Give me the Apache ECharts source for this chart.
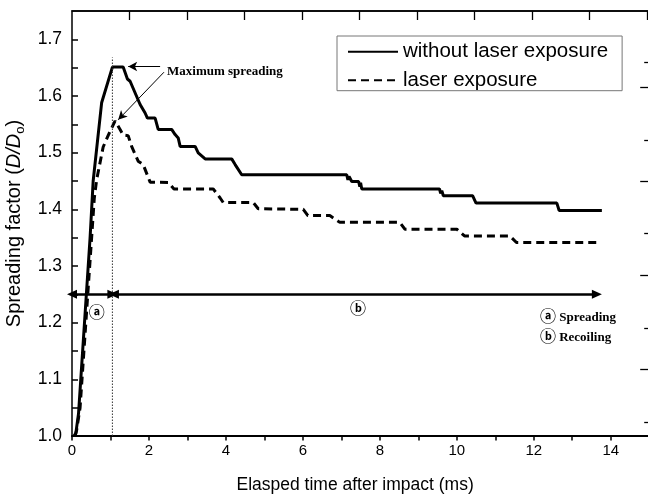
<!DOCTYPE html>
<html>
<head>
<meta charset="utf-8">
<script src="https://cdn.jsdelivr.net/npm/echarts@6/dist/echarts.min.js"></script>
<style>
html, body { margin: 0; padding: 0; background: #fff; overflow: hidden; }
#main { width: 660px; height: 500px; }
</style>
</head>
<body>
<div id="main"></div>
<script>
var xTickLabels = ['0', '2', '4', '6', '8', '10', '12', '14'];
var yTickLabels = ['1.0', '1.1', '1.2', '1.3', '1.4', '1.5', '1.6', '1.7'];

// spreading factor vs time (ms)
var withoutLaser = [
    [0.05, 1.0], [0.1, 1.005], [0.17, 1.04], [0.47, 1.35], [0.55, 1.45], [0.77, 1.588],
    [1.05, 1.651], [1.33, 1.651], [1.44, 1.63], [1.51, 1.626], [1.77, 1.585], [1.9, 1.57],
    [1.96, 1.561], [2.16, 1.561], [2.24, 1.541], [2.59, 1.541], [2.68, 1.532], [2.76, 1.526],
    [2.81, 1.511], [3.2, 1.511], [3.28, 1.4995], [3.46, 1.489], [4.15, 1.489], [4.24, 1.479],
    [4.41, 1.461], [7.14, 1.461], [7.17, 1.452], [7.2, 1.458], [7.27, 1.449], [7.45, 1.449],
    [7.48, 1.44], [7.5, 1.447], [7.53, 1.436], [9.55, 1.436], [9.58, 1.428], [9.61, 1.433],
    [9.65, 1.424], [10.41, 1.424], [10.5, 1.411], [12.6, 1.411], [12.66, 1.398], [13.77, 1.398]
];
var withLaser = [
    [0.08, 1.0], [0.12, 1.01], [0.21, 1.05], [0.58, 1.42], [0.64, 1.452], [0.81, 1.51],
    [0.95, 1.532], [1.12, 1.556], [1.25, 1.541], [1.33, 1.531], [1.46, 1.53], [1.55, 1.511],
    [1.72, 1.485], [1.85, 1.479], [2.03, 1.448], [2.5, 1.4475], [2.65, 1.436], [3.67, 1.436],
    [3.85, 1.42], [3.93, 1.412], [4.71, 1.412], [4.84, 1.401], [6.01, 1.4], [6.13, 1.389],
    [6.7, 1.389], [6.96, 1.377], [8.52, 1.377], [8.65, 1.365], [10.0, 1.365], [10.2, 1.353],
    [11.38, 1.353], [11.55, 1.3415], [13.65, 1.3415]
];

// annotation anchors (data coords)
var maxLine = [[1.05, 1.0], [1.05, 1.668]];
var spreadArrow = [[0, 1.25], [1.05, 1.25]];
var recoilArrow = [[1.09, 1.25], [13.64, 1.25]];
var maxArrowSolid = [[2.29, 1.652], [1.46, 1.652]];
var maxArrowDash = [[2.39, 1.642], [1.2, 1.558]];
var maxText = [2.47, 1.6436];
var markA = [0.641, 1.215];
var markB = [7.43, 1.2226];
var noteA = [12.16, 1.208];
var noteB = [12.16, 1.173];

// ticks of the frame's top and right sides (pixel-like units)
var topTicks = [57.5, 115, 172.5, 230, 287.5, 345, 402.5, 460, 517.5, 575];
var rightMajor = [67, 161, 255, 349];
var rightMinor = [14, 108, 203, 296, 374];

var chartDom = document.getElementById('main');
var myChart = echarts.init(chartDom);
var option;

function txt(extra) {
    return Object.assign({ color: '#000', fontFamily: 'Liberation Sans, Arial, sans-serif' }, extra);
}
function tick(len, inside, width, values) {
    var t = { show: true, inside: inside, length: len, lineStyle: { color: '#000', width: width } };
    if (values) t.customValues = values;
    return t;
}

option = {
    animation: false,
    backgroundColor: '#fff',
    grid: [
        {
            left: 72, right: 10.8, top: 11, bottom: 64,
            outerBoundsMode: 'none', containLabel: false,
            show: true, borderColor: '#000', borderWidth: 1.5
        },
        {
            left: 72, right: 10.8, top: 11, bottom: 64,
            outerBoundsMode: 'none', containLabel: false
        }
    ],
    legend: {
        data: ['without laser exposure', 'laser exposure'],
        orient: 'vertical',
        left: 337,
        top: 36,
        itemWidth: 50,
        itemHeight: 14,
        itemGap: 7.4,
        padding: [5.3, 14, 0, 10],
        borderColor: '#777',
        borderWidth: 1,
        selectedMode: false,
        itemStyle: { opacity: 0 },
        textStyle: txt({ fontSize: 20.5 })
    },
    xAxis: [
        {
            type: 'value', gridIndex: 0, min: 0, max: 15, interval: 1, position: 'bottom',
            name: 'Elasped time after impact (ms)',
            nameLocation: 'middle', nameGap: 40,
            nameTextStyle: txt({ fontSize: 17.5, padding: [0, 11, 0, 0] }),
            splitLine: { show: false },
            axisLine: { show: true, onZero: false, lineStyle: { color: '#000', width: 2 } },
            axisTick: tick(4.5, false, 1.5),
            axisLabel: txt({
                fontSize: 15, margin: 7, showMaxLabel: false,
                formatter: function (v) {
                    var s = String(v);
                    return xTickLabels.indexOf(s) >= 0 ? s : '';
                }
            })
        },
        {
            type: 'value', gridIndex: 1, position: 'top', min: 0, max: 577.2,
            splitLine: { show: false },
            axisLine: { show: true, onZero: false, lineStyle: { color: '#000', width: 1.5 } },
            axisTick: tick(9, true, 1.3, topTicks),
            axisLabel: { show: false }
        }
    ],
    yAxis: [
        {
            type: 'value', gridIndex: 0, min: 1.0, max: 1.75, interval: 0.05, position: 'left',
            name: '{n|Spreading factor (}{i|D/D}{s|o}{n|)}',
            nameLocation: 'middle', nameGap: 43,
            nameTextStyle: {
                rich: {
                    n: txt({ fontSize: 20, lineHeight: 24 }),
                    i: txt({ fontSize: 20, lineHeight: 24, fontStyle: 'italic' }),
                    s: txt({ fontSize: 13, lineHeight: 13, verticalAlign: 'bottom' })
                }
            },
            splitLine: { show: false },
            axisLine: { show: false, onZero: false },
            axisTick: tick(6, true, 1.5),
            axisLabel: txt({
                fontSize: 17.5, margin: 10, showMaxLabel: false,
                formatter: function (v) {
                    var s = (Math.round(v * 100) / 100).toString();
                    if (s.length === 1) s = s + '.0';
                    return yTickLabels.indexOf(s) >= 0 ? s : '';
                }
            })
        },
        {
            type: 'value', gridIndex: 0, position: 'right', min: 0, max: 425,
            splitLine: { show: false },
            axisLine: { show: false, onZero: false },
            axisTick: tick(9, true, 1.3, rightMajor),
            axisLabel: { show: false }
        },
        {
            type: 'value', gridIndex: 0, position: 'right', min: 0, max: 425,
            splitLine: { show: false },
            axisLine: { show: false, onZero: false },
            axisTick: tick(5, true, 1.3, rightMinor),
            axisLabel: { show: false }
        },
        {
            type: 'value', gridIndex: 1, position: 'left', min: 0, max: 1,
            show: false,
            splitLine: { show: false }
        }
    ],
    series: [
        {
            name: 'without laser exposure',
            type: 'line',
            xAxisIndex: 0, yAxisIndex: 0,
            data: withoutLaser,
            symbol: 'none',
            lineStyle: { color: '#000', width: 3 },
            itemStyle: { color: '#000' }
        },
        {
            name: 'laser exposure',
            type: 'line',
            xAxisIndex: 0, yAxisIndex: 0,
            data: withLaser,
            symbol: 'none',
            lineStyle: { color: '#000', width: 3, type: [8, 5] },
            itemStyle: { color: '#000' }
        },
        {
            name: 'max line',
            type: 'line',
            xAxisIndex: 0, yAxisIndex: 0,
            data: maxLine,
            symbol: 'none',
            lineStyle: { color: '#333', width: 1, type: [1.5, 1.5] }
        },
        {
            name: 'notes',
            type: 'line',
            xAxisIndex: 0, yAxisIndex: 0,
            data: [],
            markLine: {
                silent: true,
                label: { show: false },
                data: [
                    [
                        { coord: spreadArrow[0], symbol: 'triangle', symbolSize: [9, 10], symbolRotate: 90 },
                        { coord: spreadArrow[1], symbol: 'triangle', symbolSize: [9, 10], symbolRotate: -90 }
                    ],
                    [
                        { coord: recoilArrow[0], symbol: 'triangle', symbolSize: [9, 10], symbolRotate: 90 },
                        { coord: recoilArrow[1], symbol: 'triangle', symbolSize: [9, 10], symbolRotate: -90 }
                    ]
                ],
                lineStyle: { color: '#000', width: 2.5, type: 'solid' }
            }
        },
        {
            name: 'max arrows',
            type: 'line',
            xAxisIndex: 0, yAxisIndex: 0,
            data: [],
            markLine: {
                silent: true,
                label: { show: false },
                symbol: ['none', 'arrow'],
                symbolSize: [7, 9],
                data: [
                    [{ coord: maxArrowSolid[0] }, { coord: maxArrowSolid[1] }],
                    [{ coord: maxArrowDash[0] }, { coord: maxArrowDash[1] }]
                ],
                lineStyle: { color: '#000', width: 1, type: 'solid' }
            },
            markPoint: {
                silent: true,
                symbol: 'circle',
                symbolSize: 0,
                data: [
                    { coord: maxText, label: { formatter: 'Maximum spreading', position: 'right', distance: 0 } },
                    { coord: noteA, label: { formatter: '{c|ⓐ} Spreading', position: 'right', distance: 0 } },
                    { coord: noteB, label: { formatter: '{c|ⓑ} Recoiling', position: 'right', distance: 0 } },
                    { coord: markA, label: { formatter: '{c|ⓐ}', position: 'inside' } },
                    { coord: markB, label: { formatter: '{c|ⓑ}', position: 'inside' } }
                ],
                label: {
                    show: true,
                    color: '#000',
                    fontFamily: 'Liberation Serif, Times New Roman, serif',
                    fontWeight: 'bold',
                    fontSize: 13,
                    rich: {
                        c: { fontSize: 16, color: '#000', fontFamily: 'DejaVu Sans, Noto Sans CJK SC, sans-serif' }
                    }
                }
            }
        }
    ]
};

option && myChart.setOption(option);

window.addEventListener('resize', myChart.resize);
</script>
</body>
</html>
